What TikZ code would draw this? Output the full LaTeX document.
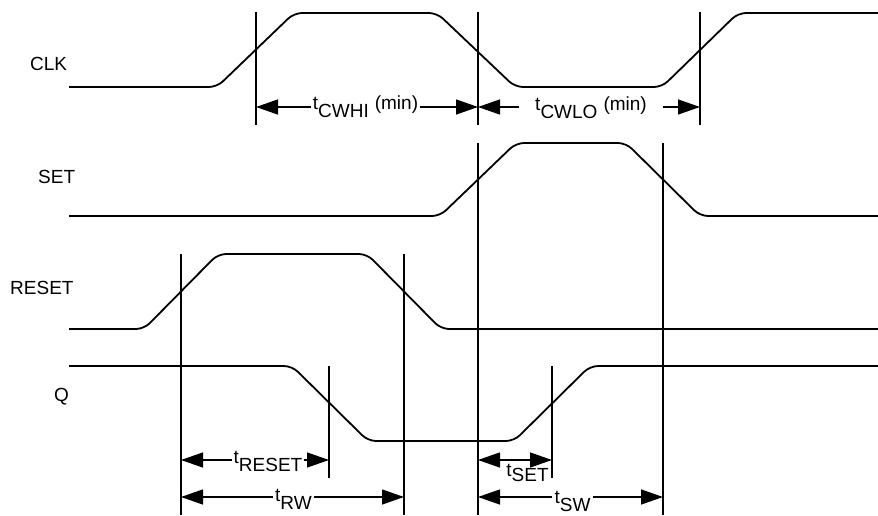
\documentclass[tikz,border=0pt]{standalone}
\usepackage{fontspec}
\setmainfont{Liberation Sans}
\usetikzlibrary{arrows.meta}

\newcommand\tlbl[2][8pt]{t\raisebox{-#1}{#2}}
\newcommand\minlbl{\hspace{6pt}(min)}

\tikzset{
    signal/.style={line width=1.8pt, rounded corners=8pt},
    tick/.style={line width=1.3pt},
    dim/.style={line width=1.3pt, -{Triangle[length=22pt,width=15pt]}},
    dimboth/.style={line width=1.3pt, {Triangle[length=22pt,width=15pt]}-{Triangle[length=22pt,width=15pt]}},
    signame/.style={font=\fontsize{19pt}{21pt}\selectfont, anchor=base west, inner sep=0pt},
    tlab/.style={font=\fontsize{19pt}{21pt}\selectfont, anchor=base, inner ysep=0pt, inner xsep=2pt},
}

\begin{document}
\begin{tikzpicture}[x=1pt, y=-1pt]
    \useasboundingbox (0,0) rectangle (878,516);

    % signal names
    \node[signame] (clk) at (30,71) {CLK};
    \node[signame] (set) at (38,183) {SET};
    \node[signame] (reset) at (10,294) {RESET};
    \node[signame] (q) at (54,401) {Q};

    % waveforms
    \draw[signal] (69,87) -- (217,87) -- (294,13) -- (437,13) -- (515,87)
        -- (662,87) -- (738,13) -- (878,13);
    \draw[signal] (69,216) -- (440,216) -- (516,143) -- (626,143) -- (700,216) -- (878,216);
    \draw[signal] (69,329) -- (144,329) -- (218,254) -- (367,254) -- (441,329) -- (878,329);
    \draw[signal] (69,366) -- (292,366) -- (368,441) -- (514,441) -- (590,366) -- (878,366);

    % reference lines
    \draw[tick] (256,12) -- (256,125);
    \draw[tick] (478,12) -- (478,125);
    \draw[tick] (700,12) -- (700,125);
    \draw[tick] (478,143) -- (478,515);
    \draw[tick] (663,143) -- (663,515);
    \draw[tick] (181,254) -- (181,515);
    \draw[tick] (404,254) -- (404,515);
    \draw[tick] (329,366) -- (329,478);
    \draw[tick] (552,366) -- (552,478);

    % end points of the timing arrows
    \coordinate (cwhiL) at (256,107);
    \coordinate (cwhiR) at (478,107);
    \coordinate (cwloR) at (700,107);
    \coordinate (rstL) at (181,460);
    \coordinate (rstR) at (329,460);
    \coordinate (rwL) at (181,497);
    \coordinate (rwR) at (404,497);
    \coordinate (setL) at (478,460);
    \coordinate (setR) at (552,460);
    \coordinate (swL) at (478,497);
    \coordinate (swR) at (663,497);

    % timing labels
    \node[tlab] (cwhi) at (365.5,110) {\tlbl{CWHI}\minlbl};
    \draw[dim] (cwhi.west |- cwhiL) -- (cwhiL);
    \draw[dim] (cwhi.east |- cwhiR) -- (cwhiR);

    \node[tlab, inner xsep=16pt] (cwlo) at (591,111) {\tlbl{CWLO}\minlbl};
    \draw[dim] (cwlo.west |- cwhiR) -- (cwhiR);
    \draw[dim] (cwlo.east |- cwloR) -- (cwloR);

    \node[tlab, inner xsep=1pt] (trst) at (268,463) {\tlbl{RESET}};
    \draw[dim] (trst.west |- rstL) -- (rstL);
    \draw[dim] (trst.east |- rstR) -- (rstR);

    \node[tlab] (trw) at (293.5,501) {\tlbl{RW}};
    \draw[dim] (trw.west |- rwL) -- (rwL);
    \draw[dim] (trw.east |- rwR) -- (rwR);

    \draw[dimboth] (setL) -- (setR);
    \node[tlab] (tset) at (527.5,476) {\tlbl[5pt]{SET}};

    \node[tlab, inner xsep=2pt] (tsw) at (572.5,503) {\tlbl{SW}};
    \draw[dim] (tsw.west |- swL) -- (swL);
    \draw[dim] (tsw.east |- swR) -- (swR);
\end{tikzpicture}
\end{document}
